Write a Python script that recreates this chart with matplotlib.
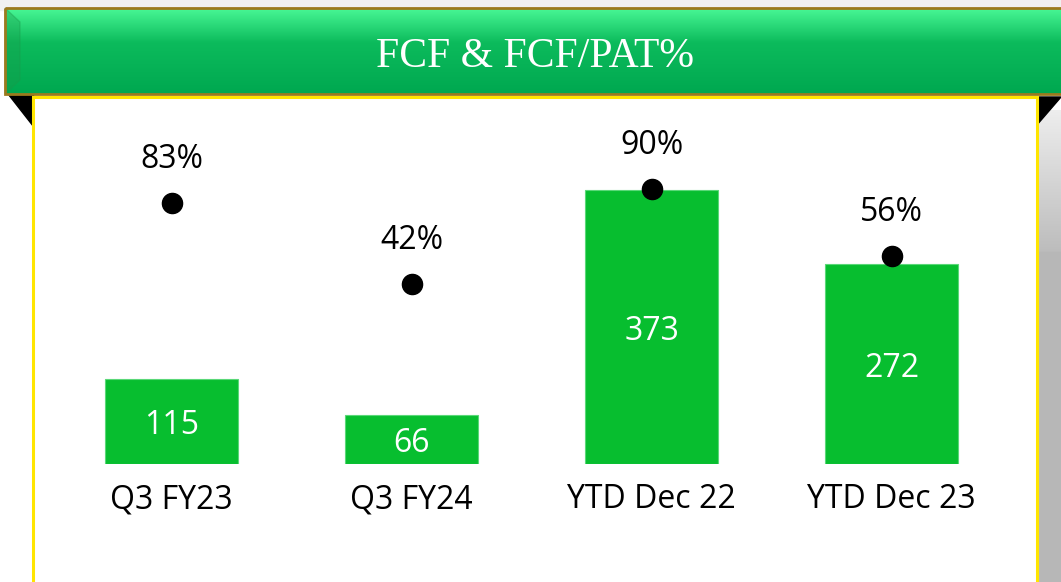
import numpy as np
import matplotlib
matplotlib.use('Agg')
from matplotlib import pyplot as plt
from matplotlib.patches import Rectangle, Polygon

categories = ['Q3 FY23', 'Q3 FY24', 'YTD Dec 22', 'YTD Dec 23']
fcf = [115, 66, 373, 272]
fcf_pat = [83, 42, 90, 56]
title = 'FCF & FCF/PAT%'

W, H = 1061, 582
fig = plt.figure(figsize=(W / 100, H / 100), dpi=100)
fig.patch.set_facecolor('white')

# background decoration in pixel coords
bg = fig.add_axes([0, 0, 1, 1])
bg.set_xlim(0, W)
bg.set_ylim(H, 0)
bg.axis('off')
bg.add_patch(Rectangle((0, 0), W, 10, color='#f1f1f1', zorder=0))

# right shadow
shade = np.concatenate([np.linspace(0.93, 0.74, 60), np.full(140, 0.72)]).reshape(-1, 1)
bg.imshow(np.repeat(shade, 2, axis=1)[:, :, None].repeat(3, axis=2),
          extent=(1037, W, H, 110), aspect='auto', zorder=1)

# black folds
bg.add_patch(Polygon([(8, 94), (33, 94), (33, 126)], color='black', zorder=2))
bg.add_patch(Polygon([(1036, 97), (W, 97), (1036, 126)], color='black', zorder=2))

# white panel with yellow border
bg.add_patch(Rectangle((33, 97), 1004, 500, facecolor='white',
                       edgecolor='#FFE500', lw=2.2, zorder=3))

# green banner with vertical gradient
top = np.array([0x48, 0xF7, 0x95]) / 255
mid = np.array([0x0C, 0xBB, 0x5C]) / 255
bot = np.array([0x00, 0xA8, 0x50]) / 255
t = np.linspace(0, 1, 100)[:, None]
grad = np.where(t < 0.4, top + (mid - top) * (t / 0.4),
                mid + (bot - mid) * ((t - 0.4) / 0.6))
bg.imshow(grad[:, None, :].repeat(2, axis=1), extent=(5, W + 2, 94, 8),
          aspect='auto', zorder=4)
bg.add_patch(Polygon([(5, 8), (20, 22), (20, 80), (5, 94)], color='#1a9a4a',
                     alpha=0.35, zorder=5))
bg.add_patch(Rectangle((5, 8), W, 86, fill=False, edgecolor='#9C7A1E',
                       lw=2, zorder=6))
bg.text(535, 57, title, color='white', fontsize=30, family='Liberation Serif',
        ha='center', va='center', zorder=7)

# main chart
ax = fig.add_axes([51.5 / W, (H - 464) / H, 960 / W, 344 / H])
ax.patch.set_alpha(0)
x = np.arange(len(categories))
bars = ax.bar(x, fcf, width=0.554, color='#07BE2F', edgecolor='#5ad878', lw=0.8)
ax.set_xlim(-0.5, 3.5)
ax.set_ylim(0, 468)
for b, v in zip(bars, fcf):
    ax.annotate(str(v), (b.get_x() + b.get_width() / 2, v / 2), xytext=(0, -3),
                textcoords='offset points', color='white', fontsize=23,
                family='Open Sans', ha='center', va='center')
ax.set_xticks(x)
ax.set_xticklabels(categories, fontsize=23, family='Open Sans')
ax.tick_params(axis='x', length=0, pad=14)
ax.set_yticks([])
for s in ax.spines.values():
    s.set_visible(False)

ax2 = ax.twinx()
ax2.set_ylim(-49, 124.7)
ax2.plot(x, fcf_pat, 'o', color='black', markersize=14.5, ls='none')
for xi, p in zip(x, fcf_pat):
    ax2.annotate('%d%%' % p, (xi, p), xytext=(0, 31), textcoords='offset points',
                 ha='center', va='center', fontsize=23, family='Open Sans')
ax2.set_yticks([])
for s in ax2.spines.values():
    s.set_visible(False)

fig.savefig('out.png', dpi=100)
